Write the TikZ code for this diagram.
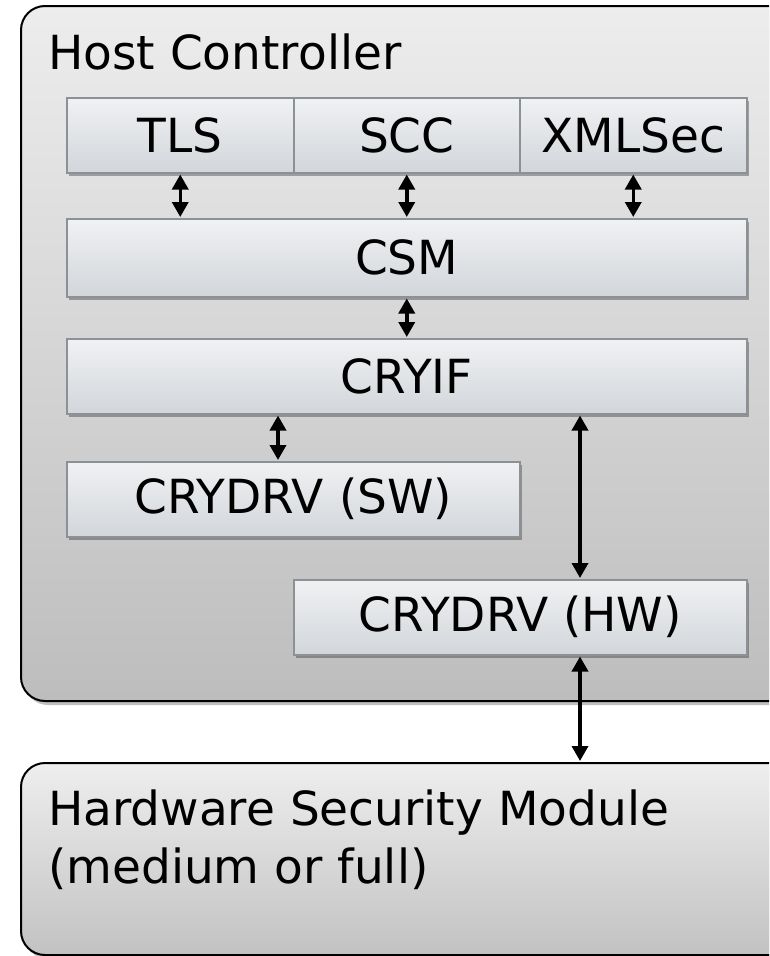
\documentclass[tikz,border=0pt]{standalone}
\usepackage{fontspec}
\setmainfont{DejaVu Sans}
\usetikzlibrary{arrows.meta,shadows}

\definecolor{hosttop}{HTML}{EDEDED}
\definecolor{hostbot}{HTML}{BDBDBD}
\definecolor{hsmtop}{HTML}{EEEEEE}
\definecolor{hsmbot}{HTML}{C2C2C2}
\definecolor{boxtop}{HTML}{F0F1F3}
\definecolor{boxbot}{HTML}{D2D6DA}
\definecolor{boxedge}{HTML}{8C9196}

\begin{document}
\begin{tikzpicture}[x=1pt,y=-1pt,
  bigtext/.style={font=\fontsize{47}{58}\selectfont},
  frame/.style={draw=black, line width=2pt, rounded corners=24pt,
    anchor=north west, inner sep=0pt,
    drop shadow={shadow xshift=3pt, shadow yshift=-4pt, opacity=0.25, fill=black}},
  layer/.style={draw=boxedge, line width=1.5pt, top color=boxtop, bottom color=boxbot,
    anchor=north west, inner sep=0pt, minimum height=75, bigtext,
    drop shadow={shadow xshift=2pt, shadow yshift=-3pt, opacity=0.3, fill=black}},
  biarrow/.style={{Triangle[length=15pt,width=16pt]}-{Triangle[length=15pt,width=16pt]},
    line width=3.5pt, shorten <=1pt, shorten >=1pt}
]
  % canvas
  \fill[white] (0,0) rectangle (769,956);
  \clip (0,0) rectangle (769,956);

  % outer containers
  \node[frame, top color=hosttop, bottom color=hostbot,
        minimum width=800, minimum height=695] (host) at (20,5) {};
  \node[bigtext, anchor=base west, inner sep=0pt] (hosttitle) at (48,69) {Host Controller};

  \node[frame, top color=hsmtop, bottom color=hsmbot,
        minimum width=800, minimum height=192] (hsm) at (20,762) {};
  % base anchor of a two-line node sits on its last line
  \node[bigtext, anchor=base west, inner sep=0pt, align=left] (hsmtitle) at (48,883)
    {Hardware Security Module\\(medium or full)};

  % software layers
  \node[layer, minimum width=227] (tls) at (66,97) {TLS};
  \node[layer, minimum width=226] (scc) at (293,97) {SCC};
  \node[layer, minimum width=227] (xml) at (519,97) {XMLSec};
  \node[layer, minimum width=680, minimum height=78] (csm) at (66,218) {CSM};
  \node[layer, minimum width=680] (cryif) at (66,338) {CRYIF};
  \node[layer, minimum width=453] (sw) at (66,461) {CRYDRV (SW)};
  \node[layer, minimum width=453] (hw) at (293,579) {CRYDRV (HW)};

  % connector columns
  \coordinate (swx) at (278,0);
  \coordinate (hwx) at (580,0);

  % connectors
  \draw[biarrow] (tls.south) -- (csm.north -| tls.south);
  \draw[biarrow] (scc.south) -- (csm.north -| scc.south);
  \draw[biarrow] (xml.south) -- (csm.north -| xml.south);
  \draw[biarrow] (csm.south -| scc.south) -- (cryif.north -| scc.south);
  \draw[biarrow] (cryif.south -| swx) -- (sw.north -| swx);
  \draw[biarrow] (cryif.south -| hwx) -- (hw.north -| hwx);
  \draw[biarrow] (hw.south -| hwx) -- (hsm.north -| hwx);
\end{tikzpicture}
\end{document}
